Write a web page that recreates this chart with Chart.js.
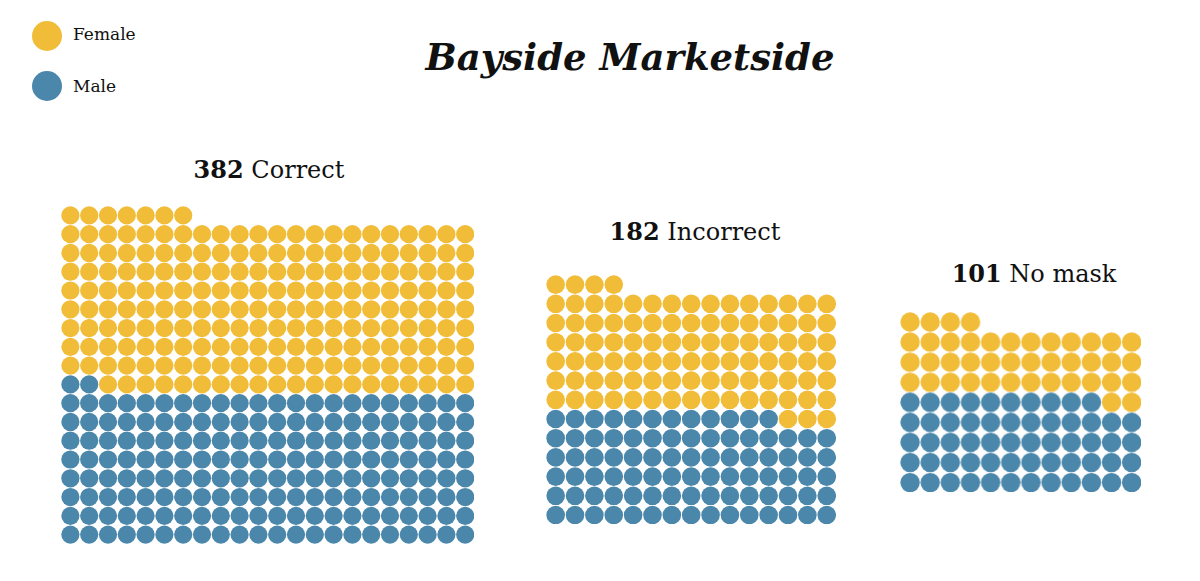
<!DOCTYPE html>
<html>
<head>
<meta charset="utf-8">
<script src="https://cdn.jsdelivr.net/npm/chart.js@4.4.0/dist/chart.umd.min.js"></script>
<style>
  html, body { margin: 0; padding: 0; background: #fff; }
  body { width: 1200px; height: 581px; position: relative; overflow: hidden; font-family: "DejaVu Serif", serif; color: #111; }
  .box { position: absolute; }
  .txt { position: absolute; white-space: nowrap; line-height: 1; }
  .title { font-weight: bold; font-style: italic; font-size: 37px; transform: translateX(-50%); }
  .label { font-size: 24px; transform: translateX(-50%); }
  .label b { font-weight: bold; }
  .legend { font-size: 17px; }
  .dot { position: absolute; width: 30px; height: 30px; border-radius: 50%; }
</style>
</head>
<body>
<div class="txt title" id="title" style="left:630px; top:39px;">Bayside Marketside</div>

<div class="dot" style="left:32px; top:21px; background:#F1BD38;"></div>
<div class="txt legend" style="left:73px; top:25.6px;">Female</div>
<div class="dot" style="left:32px; top:71px; background:#4A87AB;"></div>
<div class="txt legend" style="left:73px; top:77.6px;">Male</div>

<script>
// data
var categories = ['Correct', 'Incorrect', 'No mask'];
var totals = [382, 182, 101];
var female = [203, 97, 42];
var male = [178, 87, 58];

// layout of each waffle block
var columns = [22, 15, 12];
var boxes = [
    { left: 60.6, top: 206.3, sx: 18.8, sy: 18.78 },
    { left: 546, top: 274.7, sx: 19.36, sy: 19.2 },
    { left: 900, top: 312, sx: 20.06, sy: 19.96 }
];
var labelPos = [
    { x: 269, base: 178 },
    { x: 695, base: 240 },
    { x: 1034, base: 282 }
];

var femaleColor = '#F1BD38';
var maleColor = '#4A87AB';

function cells(start, count, cols) {
    let pts = [];
    for (let k = start; k < start + count; k++) {
        pts.push({ x: k % cols, y: Math.floor(k / cols) });
    }
    return pts;
}

for (let g = 0; g < categories.length; g++) {
    let cols = columns[g];
    let total = female[g] + male[g];
    let rows = Math.ceil(total / cols);
    let b = boxes[g];
    let w = cols * b.sx;
    let h = rows * b.sy;

    let label = document.createElement('div');
    label.className = 'txt label';
    label.style.left = labelPos[g].x + 'px';
    label.style.top = (labelPos[g].base - 20.3) + 'px';
    label.innerHTML = '<b>' + totals[g] + '</b> ' + categories[g];
    document.body.appendChild(label);

    let box = document.createElement('div');
    box.className = 'box';
    box.style.left = b.left + 'px';
    box.style.top = b.top + 'px';
    box.style.width = w + 'px';
    box.style.height = h + 'px';
    let canvas = document.createElement('canvas');
    box.appendChild(canvas);
    document.body.appendChild(box);

    let r = Math.min(b.sx, b.sy) * 0.485;

    new Chart(canvas.getContext('2d'), {
        type: 'scatter',
        data: {
            datasets: [
                { label: 'Male', data: cells(0, male[g], cols), backgroundColor: maleColor, borderWidth: 0, pointRadius: r, pointHoverRadius: r },
                { label: 'Female', data: cells(male[g], female[g], cols), backgroundColor: femaleColor, borderWidth: 0, pointRadius: r, pointHoverRadius: r }
            ]
        },
        options: {
            responsive: true,
            maintainAspectRatio: false,
            animation: false,
            layout: { padding: 0, autoPadding: false },
            plugins: { legend: { display: false }, tooltip: { enabled: false } },
            scales: {
                x: { type: 'linear', min: -0.5, max: cols - 0.5, display: false },
                y: { type: 'linear', min: -0.5, max: rows - 0.5, display: false }
            }
        }
    });
}
</script>
</body>
</html>
